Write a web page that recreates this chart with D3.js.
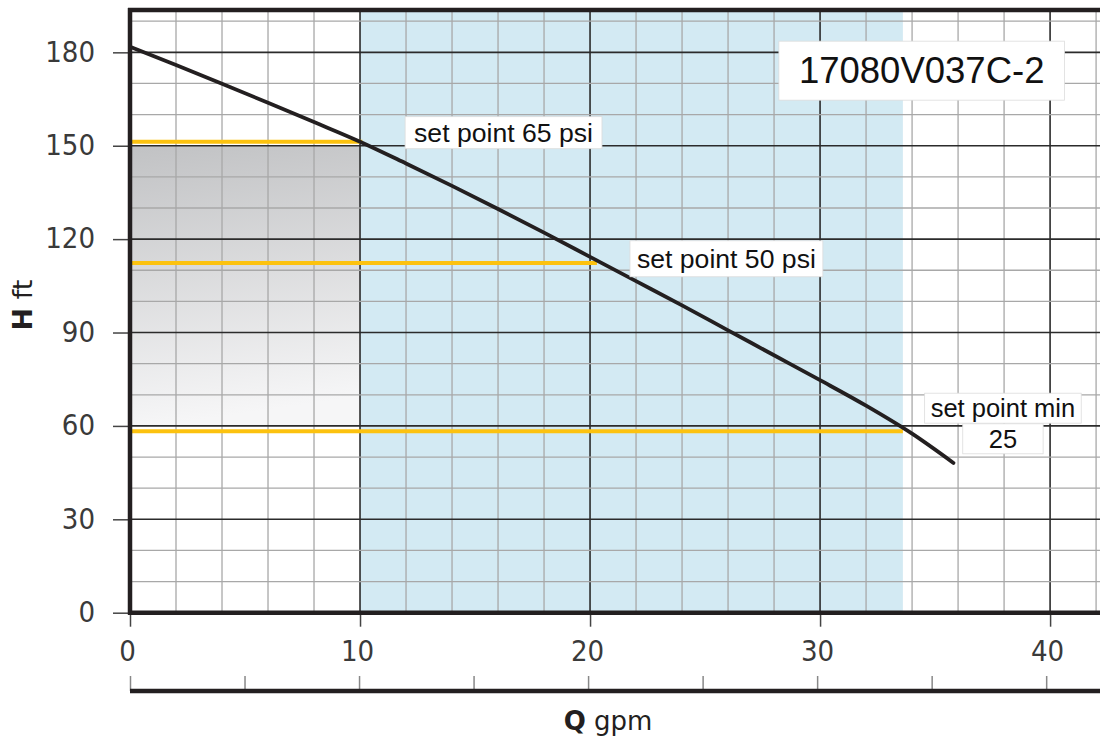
<!DOCTYPE html>
<html>
<head>
<meta charset="utf-8">
<script src="https://cdn.jsdelivr.net/npm/d3@7"></script>
<style>
  body { margin: 0; background: #fff; }
  svg { display: block; }
</style>
</head>
<body>
<svg id="chart" width="1100" height="740"></svg>
<script>
"use strict";

// Pump curve (gpm -> ft)
var flow = [0, 2, 4, 6, 8, 10, 12, 14, 16, 18, 20, 22, 24, 26, 28, 30, 32, 34, 35.8];
var head = [181.8, 175.9, 169.9, 163.8, 157.6, 151.3, 144.3, 137.1, 129.7, 122.1, 114.3, 106.5, 98.7, 90.7, 82.7, 74.7, 66.5, 57.5, 48.1];

// Set points
var setPointNames = [["set point 65 psi"], ["set point 50 psi"], ["set point min", "25"]];
var setPointHead = [151.3, 112.3, 58.3];
var setPointFlow = [10.1, 20.3, 33.6];

// Shaded ranges
var bandFlow = [10, 33.6];
var greyFlow = [0, 10];
var greyHead = [60, 150];

// Ticks
var xTicks = [0, 10, 20, 30, 40];
var yTicks = [0, 30, 60, 90, 120, 150, 180];
var subTicks = [0, 1, 2, 3, 4, 5, 6, 7, 8];
var modelName = "17080V037C-2";

var numFont = "'Liberation Sans Narrow', 'DejaVu Sans Condensed', sans-serif";
var noteFont = "'Liberation Sans', Arial, sans-serif";

var svg = d3.select("#chart");
var x = d3.scaleLinear().domain([0, 42.17]).range([130, 1100]);
var y = d3.scaleLinear().domain([0, 193.6]).range([612.7, 10]);
// unlabeled secondary flow scale under the axis
var x2 = d3.scaleLinear().domain([0, 8]).range([x(0), x(39.83)]);

var defs = svg.append("defs");
var grad = defs.append("linearGradient").attr("id", "fade")
  .attr("x1", 0).attr("y1", 0).attr("x2", 0.12).attr("y2", 1);
grad.append("stop").attr("offset", "0%").attr("stop-color", "#c1c2c4");
grad.append("stop").attr("offset", "100%").attr("stop-color", "#f6f6f7");

// Backgrounds
svg.append("rect")
  .attr("x", x(bandFlow[0])).attr("y", y.range()[1])
  .attr("width", x(bandFlow[1]) - x(bandFlow[0]))
  .attr("height", y.range()[0] - y.range()[1])
  .style("fill", "#d3eaf3");

svg.append("rect")
  .attr("x", x(greyFlow[0])).attr("y", y(greyHead[1]))
  .attr("width", x(greyFlow[1]) - x(greyFlow[0]))
  .attr("height", y(greyHead[0]) - y(greyHead[1]))
  .style("fill", "url(#fade)");

// Grid
var grid = svg.append("g");
d3.range(0, 43, 2).forEach(function(v) {
  var major = v % 10 == 0;
  grid.append("line")
    .attr("x1", x(v)).attr("x2", x(v))
    .attr("y1", y.range()[1]).attr("y2", y.range()[0])
    .style("stroke", major ? "#2b2b2b" : "#a8a8a8")
    .style("stroke-width", major ? 1.6 : 1.3);
});
d3.range(0, 194, 10).forEach(function(v) {
  var major = v % 30 == 0;
  grid.append("line")
    .attr("x1", x.range()[0]).attr("x2", x.range()[1])
    .attr("y1", y(v)).attr("y2", y(v))
    .style("stroke", major ? "#2b2b2b" : "#a8a8a8")
    .style("stroke-width", major ? 1.6 : 1.3);
});

// Set point lines
for (let i = 0; i < setPointHead.length; i++) {
  svg.append("line")
    .attr("x1", x(0) + 2).attr("x2", x(setPointFlow[i]))
    .attr("y1", y(setPointHead[i])).attr("y2", y(setPointHead[i]))
    .style("stroke", "#fcc20f")
    .style("stroke-width", 4);
}

// Pump curve
var line = d3.line()
  .x(function(d, i) { return x(flow[i]); })
  .y(function(d) { return y(d); })
  .curve(d3.curveMonotoneX);
svg.append("path")
  .attr("d", line(head))
  .style("fill", "none")
  .style("stroke", "#231f20")
  .style("stroke-width", 3.8)
  .style("stroke-linecap", "round");

// Boxed notes
function boxed(lines, q, h, size, padX, padY, anchor, padX2) {
  var g = svg.append("g");
  lines.forEach(function(t, k) {
    var px = k > 0 && padX2 ? padX2 : padX;
    var gl = g.append("g");
    var txt = gl.append("text")
      .attr("x", x(q)).attr("y", y(h) + k * size * 1.2)
      .attr("text-anchor", anchor)
      .style("font-family", noteFont)
      .style("font-size", size + "px")
      .style("fill", "#111")
      .text(t);
    var b = txt.node().getBBox();
    gl.insert("rect", "text")
      .attr("x", b.x - px).attr("y", b.y - padY)
      .attr("width", b.width + px * 2).attr("height", b.height + padY * 2)
      .style("fill", "#fff")
      .style("stroke", "#dcdcdc")
      .style("stroke-width", 0.8);
  });
}
boxed(setPointNames[0], 12.35, 151.3, 26.6, 9, 1, "start");
boxed(setPointNames[1], 22.04, 110.8, 26.6, 7, 3, "start");
boxed(setPointNames[2], 37.95, 62.8, 25.5, 6, 1, "middle", 26);
boxed([modelName], 29.08, 170.1, 36.5, 20, 9, "start");

// Y axis
var yAxis = svg.append("g")
  .attr("transform", "translate(" + x(0) + ",0)")
  .call(d3.axisLeft(y).tickValues(yTicks).tickSize(17).tickSizeOuter(0).tickPadding(18));
yAxis.select(".domain").remove();
yAxis.selectAll(".tick line").style("stroke", "#444").style("stroke-width", 1.5);
yAxis.selectAll(".tick text")
  .attr("dy", "0.3em")
  .style("font-family", numFont).style("font-size", "29px").style("fill", "#3a3a3a");

// X axis
var xAxis = svg.append("g")
  .attr("transform", "translate(0," + y(0) + ")")
  .call(d3.axisBottom(x).tickValues(xTicks).tickSize(14).tickSizeOuter(0).tickPadding(14));
xAxis.select(".domain").remove();
xAxis.selectAll(".tick line").style("stroke", "#444").style("stroke-width", 1.5);
xAxis.selectAll(".tick text")
  .attr("dx", "-3")
  .style("font-family", numFont).style("font-size", "29px").style("fill", "#3a3a3a");

// Secondary scale bar
var subAxis = svg.append("g")
  .attr("transform", "translate(0,691)")
  .call(d3.axisTop(x2).tickValues(subTicks).tickSize(15).tickSizeOuter(0).tickFormat(""));
subAxis.select(".domain").remove();
subAxis.selectAll(".tick line").style("stroke", "#888").style("stroke-width", 1.5);
svg.append("line")
  .attr("x1", x.range()[0]).attr("x2", x.range()[1])
  .attr("y1", 691).attr("y2", 691)
  .style("stroke", "#231f20").style("stroke-width", 4.5);

// Frame
var frame = [
  [x.range()[0] - 2, y.range()[1], x.range()[1], y.range()[1]],
  [x.range()[0], y.range()[1] - 2, x.range()[0], y.range()[0] + 2],
  [x.range()[0] - 2, y.range()[0], x.range()[1], y.range()[0]]
];
frame.forEach(function(f) {
  svg.append("line")
    .attr("x1", f[0]).attr("y1", f[1]).attr("x2", f[2]).attr("y2", f[3])
    .style("stroke", "#231f20").style("stroke-width", 4.5);
});

// Axis titles
var yTitle = svg.append("text")
  .attr("transform", "translate(32,305) rotate(-90)")
  .attr("text-anchor", "middle")
  .style("font-family", "'DejaVu Sans', sans-serif")
  .style("font-size", "27px")
  .style("fill", "#231f20");
yTitle.append("tspan").style("font-weight", "bold").text("H");
yTitle.append("tspan").text(" ft");

var xTitle = svg.append("text")
  .attr("x", 608).attr("y", 730)
  .attr("text-anchor", "middle")
  .style("font-family", "'DejaVu Sans', sans-serif")
  .style("font-size", "26px")
  .style("fill", "#231f20");
xTitle.append("tspan").style("font-weight", "bold").text("Q");
xTitle.append("tspan").text(" gpm");
</script>
</body>
</html>
